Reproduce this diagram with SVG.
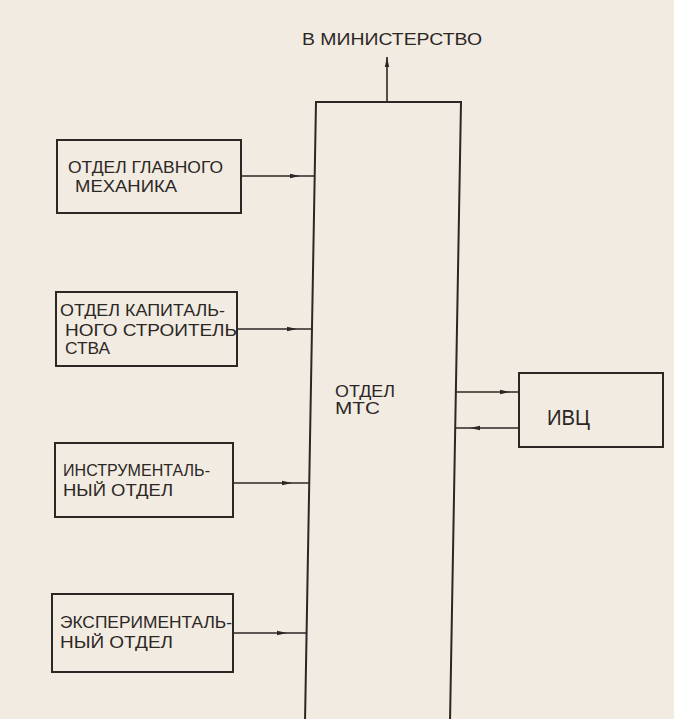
<svg xmlns="http://www.w3.org/2000/svg" width="674" height="719" viewBox="0 0 674 719">
<defs>
<marker id="ah" viewBox="0 0 10 6" refX="10" refY="3" markerWidth="10" markerHeight="6" markerUnits="userSpaceOnUse" orient="auto">
<path d="M0,0.8 L10,3 L0,5.2 Z" fill="#2b2724"/>
</marker>
<style>
.box{fill:none;stroke:#2b2724;stroke-width:2}
.con{fill:none;stroke:#2b2724;stroke-width:1.6}
.t{font-family:"Liberation Sans","DejaVu Sans",sans-serif;font-size:16.5px;fill:#2b2724}
</style>
</defs>
<rect width="674" height="719" fill="#f2ebe2"/>
<g id="ministry">
<text class="t" x="302" y="45" textLength="180" lengthAdjust="spacingAndGlyphs">В МИНИСТЕРСТВО</text>
</g>
<g id="mts">
<path class="box" d="M305,722 L316,102 L461,102 L450,722"/>
<text class="t" x="335" y="397" textLength="60" lengthAdjust="spacingAndGlyphs">ОТДЕЛ</text>
<text class="t" x="335" y="414" textLength="45" lengthAdjust="spacingAndGlyphs">МТС</text>
</g>
<g id="mech">
<rect class="box" x="57" y="140" width="184" height="73"/>
<text class="t" x="68" y="173" textLength="155" lengthAdjust="spacingAndGlyphs">ОТДЕЛ ГЛАВНОГО</text>
<text class="t" x="75" y="192" textLength="102" lengthAdjust="spacingAndGlyphs">МЕХАНИКА</text>
</g>
<g id="capital">
<rect class="box" x="56" y="292" width="181" height="74"/>
<text class="t" x="60" y="316" textLength="165" lengthAdjust="spacingAndGlyphs">ОТДЕЛ КАПИТАЛЬ-</text>
<text class="t" x="65" y="336" textLength="172" lengthAdjust="spacingAndGlyphs">НОГО СТРОИТЕЛЬ</text>
<text class="t" x="65" y="354" textLength="45" lengthAdjust="spacingAndGlyphs">СТВА</text>
</g>
<g id="instrument">
<rect class="box" x="55" y="443" width="178" height="74"/>
<text class="t" x="63" y="476" textLength="147" lengthAdjust="spacingAndGlyphs">ИНСТРУМЕНТАЛЬ-</text>
<text class="t" x="63" y="496" textLength="110" lengthAdjust="spacingAndGlyphs">НЫЙ ОТДЕЛ</text>
</g>
<g id="experimental">
<rect class="box" x="52" y="594" width="181" height="78"/>
<text class="t" x="60" y="628" textLength="172" lengthAdjust="spacingAndGlyphs">ЭКСПЕРИМЕНТАЛЬ-</text>
<text class="t" x="60" y="648" textLength="113" lengthAdjust="spacingAndGlyphs">НЫЙ ОТДЕЛ</text>
</g>
<g id="ivc">
<rect class="box" x="519" y="373" width="144" height="74"/>
<text class="t" x="547" y="425" style="font-size:22px" textLength="43" lengthAdjust="spacingAndGlyphs">ИВЦ</text>
</g>
<g id="connectors">
<polyline class="con" points="387,102 387,57" marker-end="url(#ah)"/>
<polyline class="con" points="241,176 300,176 315,176" marker-mid="url(#ah)"/>
<polyline class="con" points="237,329 297,329 312,329" marker-mid="url(#ah)"/>
<polyline class="con" points="233,483 292,483 309,483" marker-mid="url(#ah)"/>
<polyline class="con" points="233,633 287,633 306,633" marker-mid="url(#ah)"/>
<polyline class="con" points="456,392 510,392 519,392" marker-mid="url(#ah)"/>
<polyline class="con" points="519,428 470,428 456,428" marker-mid="url(#ah)"/>
</g>
</svg>
